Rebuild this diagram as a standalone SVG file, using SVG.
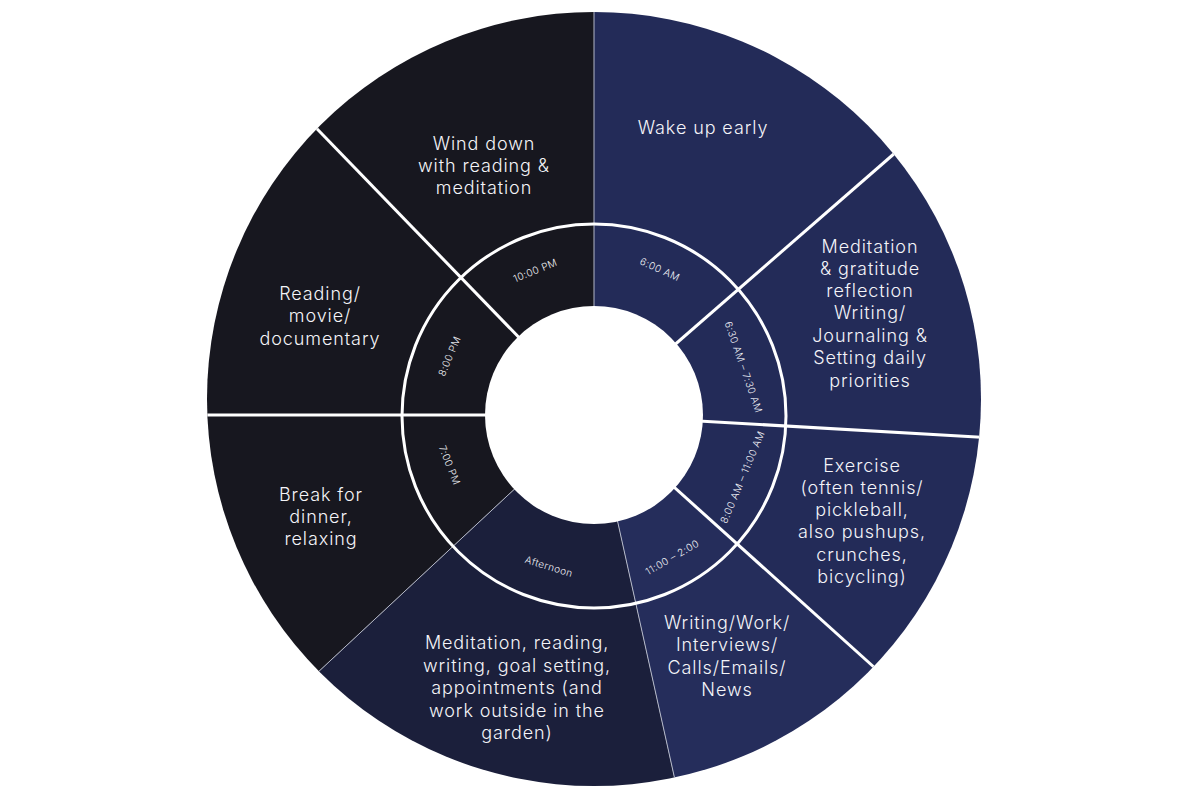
<svg xmlns="http://www.w3.org/2000/svg" width="1200" height="800" viewBox="0 0 1200 800">
<defs>
<clipPath id="disc"><circle cx="594" cy="399" r="387"/></clipPath>
<style>
.big{font-family:Inter,"Open Sans","Liberation Sans",sans-serif;font-weight:300;font-size:18px;letter-spacing:0.9px;fill:#f4f4f8;text-anchor:middle}
.small{font-family:Inter,"Open Sans","Liberation Sans",sans-serif;font-weight:300;font-size:10px;letter-spacing:0.4px;fill:#f0f1f6;text-anchor:middle;dominant-baseline:central}
.thick{stroke:#ffffff;stroke-width:3;fill:none}
.thin{stroke:#b4b8c8;stroke-width:1;fill:none}
.navy{fill:#232b58}
.dark{fill:#17171f}
</style>
</defs>
<rect width="1200" height="800" fill="#ffffff"/>
<g clip-path="url(#disc)">
<g id="seg-wake">
<polygon class="navy" points="594,415 594,-185 1046.8,21.3"/>
</g>
<g id="seg-meditation">
<polygon class="navy" points="594,415 1046.8,21.3 1193,449.5"/>
</g>
<g id="seg-exercise">
<polygon class="navy" points="594,415 1193,449.5 1039.9,816.5"/>
</g>
<g id="seg-work">
<polygon fill="#252d5b" points="594,415 1039.9,816.5 723.8,1000.8"/>
</g>
<g id="seg-afternoon">
<polygon fill="#1b1f3b" points="594,415 723.8,1000.8 155.2,824.2"/>
</g>
<g id="seg-dinner">
<polygon class="dark" points="594,415 155.2,824.2 -6,415"/>
</g>
<g id="seg-reading">
<polygon class="dark" points="594,415 -6,415 177.2,-16.6"/>
</g>
<g id="seg-winddown">
<polygon class="dark" points="594,415 177.2,-16.6 594,-185"/>
</g>
<g id="connectors">
<line class="thin" x1="594" y1="415" x2="594" y2="-5"/>
<line class="thick" x1="594" y1="415" x2="911" y2="139"/>
<line class="thick" x1="594" y1="415" x2="1013" y2="439"/>
<line class="thick" x1="594" y1="415" x2="906" y2="696"/>
<line class="thin" x1="594" y1="415" x2="685" y2="825"/>
<line class="thin" x1="594" y1="415" x2="287" y2="701"/>
<line class="thick" x1="594" y1="415" x2="174" y2="415"/>
<line class="thick" x1="594" y1="415" x2="292" y2="103"/>
</g>
</g>
<circle cx="594" cy="416" r="192" class="thick"/>
<circle cx="594" cy="415" r="109" fill="#ffffff"/>
<g id="labels-outer">
<text class="big" x="703" y="134">Wake up early</text>
<text class="big" x="484" y="150">Wind down</text>
<text class="big" x="484" y="172">with reading &amp;</text>
<text class="big" x="484" y="194">meditation</text>
<text class="big" x="870" y="253">Meditation</text>
<text class="big" x="870" y="275">&amp; gratitude</text>
<text class="big" x="870" y="297">reflection</text>
<text class="big" x="870" y="319">Writing/</text>
<text class="big" x="870" y="342">Journaling &amp;</text>
<text class="big" x="870" y="364">Setting daily</text>
<text class="big" x="870" y="387">priorities</text>
<text class="big" x="320" y="300">Reading/</text>
<text class="big" x="320" y="322">movie/</text>
<text class="big" x="320" y="345">documentary</text>
<text class="big" x="321" y="501">Break for</text>
<text class="big" x="321" y="523">dinner,</text>
<text class="big" x="321" y="545">relaxing</text>
<text class="big" x="862" y="472">Exercise</text>
<text class="big" x="862" y="494">(often tennis/</text>
<text class="big" x="862" y="516">pickleball,</text>
<text class="big" x="862" y="538">also pushups,</text>
<text class="big" x="862" y="561">crunches,</text>
<text class="big" x="862" y="583">bicycling)</text>
<text class="big" x="727" y="629">Writing/Work/</text>
<text class="big" x="727" y="651">Interviews/</text>
<text class="big" x="727" y="673.5">Calls/Emails/</text>
<text class="big" x="727" y="696">News</text>
<text class="big" x="517" y="649">Meditation, reading,</text>
<text class="big" x="517" y="672">writing, goal setting,</text>
<text class="big" x="517" y="694">appointments (and</text>
<text class="big" x="517" y="717">work outside in the</text>
<text class="big" x="517" y="739">garden)</text>
</g>
<g id="labels-inner">
<text class="small" transform="translate(660,269) rotate(24.5)">6:00 AM</text>
<text class="small" transform="translate(744,367) rotate(71)">6:30 AM – 7:30 AM</text>
<text class="small" transform="translate(742,477) rotate(-67.4)">8:00 AM – 11:00 AM</text>
<text class="small" transform="translate(672,557) rotate(-30)">11:00 – 2:00</text>
<text class="small" transform="translate(549,566) rotate(17)">Afternoon</text>
<text class="small" transform="translate(450,465) rotate(68.5)">7:00 PM</text>
<text class="small" transform="translate(449,356) rotate(-67)">8:00 PM</text>
<text class="small" transform="translate(535,270) rotate(-22)">10:00 PM</text>
</g>
</svg>
